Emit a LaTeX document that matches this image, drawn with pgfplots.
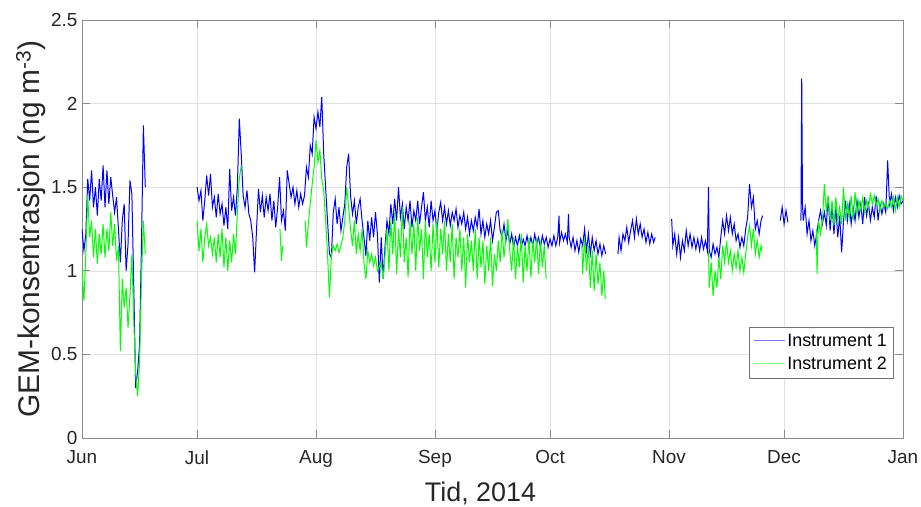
\documentclass[border=0pt]{standalone}
\usepackage{pgfplots}
\pgfplotsset{compat=1.18}
\usepackage{fontspec}
\setmainfont{Liberation Sans}
\definecolor{ticktext}{RGB}{38,38,38}
\definecolor{gridc}{RGB}{225,225,225}
\definecolor{axc}{RGB}{140,140,140}
\definecolor{bluei}{RGB}{0,0,255}
\definecolor{greeni}{RGB}{0,255,0}
\definecolor{bluel}{RGB}{120,120,255}
\definecolor{greenl}{RGB}{120,255,120}
\begin{document}
\begin{tikzpicture}
\begin{axis}[
  scale only axis, width=821bp, height=418bp,
  xmin=0, xmax=214, ymin=0, ymax=2.5,
  xtick={0,30,61,92,122,153,183,214},
  xticklabels={Jun,Jul,Aug,Sep,Oct,Nov,Dec,Jan},
  ytick={0,0.5,1,1.5,2,2.5},
  yticklabels={0,0.5,1,1.5,2,2.5},
  grid=major, major grid style={gridc, line width=0.6pt},
  axis line style={axc, line width=0.8pt},
  tick style={axc, line width=0.8pt}, major tick length=8bp,
  tick align=inside,
  ticklabel style={font=\fontsize{19}{22}\selectfont, text=ticktext},
  xticklabel style={yshift=-9bp},
  yticklabel style={xshift=-1bp},
  /pgf/number format/assume math mode=true,
  xlabel={Tid, 2014},
  ylabel={GEM-konsentrasjon (ng m\textsuperscript{-3})},
  xlabel style={font=\fontsize{27}{31}\selectfont, text=ticktext, at={(axis description cs:0.4854,0)}, anchor=base, yshift=-63bp},
  ylabel style={font=\fontsize{30}{33}\selectfont, text=ticktext, at={(axis description cs:-0.0621,0.5)}, anchor=center},
  unbounded coords=jump,
  legend style={at={(0.988,0.266)}, anchor=north east, draw=black!55, font=\fontsize{18}{21}\selectfont, cells={anchor=west}, inner xsep=4bp, inner ysep=5bp, row sep=5bp},
  legend image code/.code={\draw[#1] (0bp,0bp) -- (31bp,0bp);},
]
\addplot[color=bluei, line width=1pt, forget plot] coordinates {
(0,1.25)(0.5,1.12)(1,1.22)(1.5,1.55)(2,1.42)(2.5,1.6)(3,1.38)(3.5,1.5)(4,1.33)(4.5,1.55)(5,1.42)(5.5,1.63)(6,1.38)(6.5,1.6)(7,1.4)(7.5,1.56)(8,1.45)(8.5,1.35)(9,1.44)(9.5,1.25)(10,1.05)(10.5,1.3)(11,1.4)(11.5,1.0)(12,1.16)(12.5,1.54)(13,1.46)(13.5,0.9)(14,0.3)(14.5,0.4)(15,0.55)(15.5,1.15)(16,1.87)(16.5,1.5)
(17,nan)
(30,1.5)(30.5,1.42)(31,1.48)(31.5,1.3)(32,1.42)(32.5,1.57)(33,1.45)(33.5,1.58)(34,1.38)(34.5,1.44)(35,1.32)(35.5,1.46)(36,1.34)(36.5,1.4)(37,1.27)(37.5,1.38)(38,1.25)(38.5,1.61)(39,1.36)(39.5,1.44)(40,1.33)(40.5,1.5)(41,1.91)(41.5,1.7)(42,1.45)(42.5,1.38)(43,1.48)(43.5,1.34)(44,1.3)(44.5,1.2)(45,0.99)(45.5,1.25)(46,1.49)(46.5,1.35)(47,1.45)(47.5,1.32)(48,1.44)(48.5,1.36)(49,1.46)(49.5,1.3)(50,1.42)(50.5,1.26)(51,1.38)(51.5,1.56)(52,1.3)(52.5,1.36)(53,1.24)(53.5,1.6)(54,1.52)(54.5,1.44)(55,1.5)(55.5,1.4)(56,1.48)(56.5,1.38)(57,1.46)(57.5,1.4)(58,1.45)(58.5,1.62)(59,1.56)(59.5,1.75)(60,1.7)(60.5,1.92)(61,1.85)(61.5,1.95)(62,1.86)(62.5,2.04)(63,1.7)(63.5,1.5)(64,1.3)(64.5,1.1)(65,1.08)(65.5,1.35)(66,1.43)(66.5,1.28)(67,1.38)(67.5,1.24)(68,1.32)(68.5,1.4)(69,1.62)(69.5,1.7)(70,1.45)(70.5,1.34)(71,1.42)(71.5,1.28)(72,1.38)(72.5,1.43)(73,1.3)(73.5,1.2)(74,1.09)(74.5,1.3)(75,1.18)(75.5,1.32)(76,1.2)(76.5,1.35)(77,1.22)(77.5,0.93)(78,1.2)(78.5,0.95)(79,1.15)(79.5,1.3)(80,1.22)(80.5,1.4)(81,1.28)(81.5,1.43)(82,1.3)(82.5,1.5)(83,1.32)(83.5,1.4)(84,1.25)(84.5,1.38)(85,1.3)(85.5,1.42)(86,1.26)(86.5,1.36)(87,1.3)(87.5,1.42)(88,1.28)(88.5,1.38)(89,1.47)(89.5,1.3)(90,1.38)(90.5,1.26)(91,1.42)(91.5,1.3)(92,1.36)(92.5,1.24)(93,1.35)(93.5,1.41)(94,1.3)(94.5,1.38)(95,1.28)(95.5,1.36)(96,1.27)(96.5,1.35)(97,1.3)(97.5,1.37)(98,1.26)(98.5,1.33)(99,1.28)(99.5,1.35)(100,1.25)(100.5,1.32)(101,1.22)(101.5,1.3)(102,1.24)(102.5,1.32)(103,1.26)(103.5,1.37)(104,1.22)(104.5,1.3)(105,1.2)(105.5,1.28)(106,1.22)(106.5,1.3)(107,1.18)(107.5,1.26)(108,1.35)(108.5,1.36)(109,1.24)(109.5,1.2)(110,1.28)(110.5,1.18)(111,1.24)(111.5,1.16)(112,1.22)(112.5,1.14)(113,1.2)(113.5,1.15)(114,1.21)(114.5,1.14)(115,1.19)(115.5,1.15)(116,1.21)(116.5,1.14)(117,1.2)(117.5,1.15)(118,1.22)(118.5,1.16)(119,1.2)(119.5,1.14)(120,1.21)(120.5,1.16)(121,1.2)(121.5,1.14)(122,1.19)(122.5,1.15)(123,1.21)(123.5,1.15)(124,1.2)(124.35,1.33)(124.5,1.17)(125,1.23)(125.5,1.18)(126,1.22)(126.5,1.17)(126.8,1.34)(127,1.2)(127.5,1.14)(128,1.2)(128.5,1.12)(129,1.18)(129.5,1.11)(130,1.19)(130.5,1.15)(131,1.25)(131.5,1.12)(132,1.22)(132.5,1.1)(133,1.2)(133.5,1.12)(134,1.18)(134.5,1.1)(135,1.16)(135.5,1.09)(136,1.15)(136.5,1.1)
(137,nan)
(139.7,1.1)(140,1.2)(140.5,1.12)(141,1.22)(141.5,1.18)(142,1.26)(142.5,1.17)(143,1.24)(143.5,1.3)(144,1.2)(144.5,1.31)(145,1.22)(145.5,1.28)(146,1.2)(146.5,1.25)(147,1.17)(147.5,1.23)(148,1.16)(148.5,1.22)(149,1.17)(149.4,1.2)
(150,nan)
(153.7,1.31)(154,1.15)(154.5,1.22)(155,1.1)(155.5,1.2)(156,1.08)(156.5,1.18)(157,1.12)(157.5,1.24)(158,1.15)(158.5,1.22)(159,1.14)(159.5,1.2)(160,1.13)(160.5,1.19)(161,1.12)(161.5,1.2)(162,1.13)(162.5,1.18)(163,1.12)(163.3,1.5)(163.5,1.12)(164,1.08)(164.5,1.16)(165,1.1)(165.5,1.14)(166,1.08)(166.5,1.2)(167,1.3)(167.5,1.22)(168,1.33)(168.5,1.24)(169,1.32)(169.5,1.22)(170,1.28)(170.5,1.18)(171,1.22)(171.5,1.14)(172,1.2)(172.5,1.15)(173,1.25)(173.5,1.32)(174,1.52)(174.5,1.38)(175,1.44)(175.5,1.25)(176,1.3)(176.5,1.22)(177,1.3)(177.4,1.33)
(178,nan)
(182,1.3)(182.5,1.38)(183,1.28)(183.5,1.36)(184,1.29)
(185,nan)
(187.4,1.3)(187.6,2.15)(187.8,1.4)(188,1.3)(188.5,1.38)(189,1.22)(189.5,1.3)(190,1.18)(190.5,1.24)(191,1.15)(191.5,1.22)(192,1.3)(192.5,1.36)(193,1.28)(193.5,1.35)(194,1.27)(194.5,1.44)(195,1.24)(195.5,1.4)(196,1.22)(196.5,1.38)(197,1.2)(197.5,1.33)(198,1.11)(198.5,1.3)(199,1.42)(199.5,1.3)(200,1.4)(200.5,1.28)(201,1.38)(201.5,1.3)(202,1.42)(202.5,1.32)(203,1.4)(203.5,1.28)(204,1.44)(204.5,1.33)(205,1.4)(205.5,1.3)(206,1.38)(206.5,1.32)(207,1.45)(207.5,1.3)(208,1.4)(208.5,1.34)(209,1.4)(209.5,1.35)(210,1.66)(210.3,1.5)(210.5,1.4)(211,1.46)(211.5,1.36)(212,1.44)(212.5,1.38)(213,1.45)(213.5,1.4)(214,1.42)
};
\addplot[color=greeni, line width=1pt, forget plot] coordinates {
(0,1.0)(0.5,0.82)(1,1.1)(1.5,1.45)(2,1.2)(2.5,1.3)(3,1.08)(3.5,1.25)(4,1.04)(4.5,1.22)(5,1.1)(5.5,1.28)(6,1.08)(6.5,1.25)(7,1.12)(7.5,1.35)(8,1.15)(8.5,1.28)(9,1.06)(9.5,1.15)(10,0.52)(10.5,0.95)(11,0.78)(11.5,0.9)(12,0.66)(12.5,0.85)(13,1.1)(13.5,0.7)(14,0.38)(14.5,0.25)(15,0.45)(15.5,0.95)(16,1.3)(16.5,1.1)
(17,nan)
(30,1.3)(30.5,1.12)(31,1.25)(31.5,1.05)(32,1.2)(32.5,1.28)(33,1.15)(33.5,1.2)(34,1.1)(34.5,1.2)(35,1.05)(35.5,1.22)(36,1.08)(36.5,1.25)(37,1.02)(37.5,1.2)(38,1.0)(38.5,1.18)(39,1.05)(39.5,1.22)(40,1.1)(40.5,1.35)(41,1.55)(41.5,1.63)
(42,nan)
(51.6,1.25)(52,1.06)(52.3,1.15)
(53,nan)
(58.2,1.3)(58.5,1.14)(59,1.28)(59.5,1.4)(60,1.52)(60.5,1.62)(61,1.78)(61.5,1.65)(62,1.72)(62.5,1.55)(63,1.48)(63.5,1.3)(64,1.1)(64.5,0.84)(65,1.09)(65.5,1.15)(66,1.12)(66.5,1.16)(67,1.11)(67.5,1.15)(68,1.2)(68.5,1.3)(69,1.5)(69.5,1.38)(70,1.25)(70.5,1.15)(71,1.3)(71.5,1.1)(72,1.22)(72.5,1.12)(73,1.25)(73.5,1.05)(74,0.95)(74.5,1.12)(75,1.05)(75.5,1.1)(76,1.03)(76.5,1.08)(77,1.0)(78,1.05)(78.5,0.95)(79,1.1)(79.5,1.25)(80,1.0)(80.5,1.3)(81,1.1)(81.5,1.35)(82,0.98)(82.5,1.25)(83,1.08)(83.5,1.38)(84,1.05)(84.5,1.2)(85,0.96)(85.5,1.3)(86,1.1)(86.5,1.28)(87,1.0)(87.5,1.32)(88,1.12)(88.5,1.25)(89,0.95)(89.5,1.3)(90,1.08)(90.5,1.22)(91,1.0)(91.5,1.28)(92,1.05)(92.5,1.3)(93,1.02)(93.5,1.25)(94,1.1)(94.5,1.3)(95,1.0)(95.5,1.22)(96,1.05)(96.5,1.28)(97,0.95)(97.5,1.2)(98,1.08)(98.5,1.25)(99,1.0)(99.5,1.2)(100,0.9)(100.5,1.22)(101,1.05)(101.5,1.18)(102,1.0)(102.5,1.25)(103,0.95)(103.5,1.2)(104,1.02)(104.5,1.18)(105,0.92)(105.5,1.15)(106,1.0)(106.5,1.2)(107,0.91)(107.5,1.1)(108,1.0)(108.5,1.18)(109,1.05)(109.5,1.25)(110,1.08)(110.5,1.2)(111,1.31)(111.5,1.12)(112,1.0)(112.5,1.2)(113,0.95)(113.5,1.15)(114,1.02)(114.5,1.22)(115,0.93)(115.5,1.15)(116,1.0)(116.5,1.2)(117,0.96)(117.5,1.18)(118,1.05)(118.5,1.2)(119,0.98)(119.5,1.18)(120,1.02)(120.5,1.15)(121,0.95)
(122,nan)
(130.3,1.15)(130.5,0.98)(131,1.2)(131.5,1.0)(132,1.15)(132.5,0.9)(133,1.12)(133.5,0.88)(134,1.1)(134.5,0.92)(135,1.05)(135.5,0.85)(136,1.0)(136.4,0.83)
(137,nan)
(163.3,1.12)(163.5,0.9)(164,1.05)(164.5,0.85)(165,1.0)(165.5,0.9)(166,1.08)(166.5,0.95)(167,1.15)(167.5,1.05)(168,1.18)(168.5,1.05)(169,1.12)(169.5,1.0)(170,1.1)(170.5,1.02)(171,1.12)(171.5,1.0)(172,1.08)(172.5,0.99)(173,1.1)(173.5,1.2)(174,1.27)(174.5,1.15)(175,1.25)(175.5,1.1)(176,1.18)(176.5,1.08)(177,1.15)(177.2,1.12)
(178,nan)
(191.4,1.25)(191.6,0.98)(191.8,1.2)(192,1.3)(192.5,1.22)(193,1.3)(193.5,1.52)(194,1.35)(194.5,1.45)(195,1.3)(195.5,1.42)(196,1.27)(196.5,1.44)(197,1.3)(197.5,1.38)(198,1.28)(198.5,1.5)(199,1.3)(199.5,1.4)(200,1.32)(200.5,1.45)(201,1.3)(201.5,1.47)(202,1.34)(202.5,1.42)(203,1.36)(203.5,1.44)(204,1.35)(204.5,1.42)(205,1.38)(205.5,1.46)(206,1.4)(206.5,1.45)(207,1.39)(207.5,1.43)(208,1.36)(208.5,1.42)(209,1.38)(209.5,1.4)(210,1.37)(210.5,1.42)(211,1.38)(211.5,1.44)(212,1.36)(212.5,1.44)(213,1.38)(213.5,1.45)(214,1.42)
};
\addlegendimage{draw=bluel, line width=1pt}
\addlegendentry{Instrument 1}
\addlegendimage{draw=greenl, line width=1pt}
\addlegendentry{Instrument 2}
\coordinate (bl) at (rel axis cs:0,0);
\coordinate (tr) at (rel axis cs:1,1);
\end{axis}
\pgfresetboundingbox
\path ([shift={(-82bp,-69bp)}]bl) rectangle ([shift={(18bp,20bp)}]tr);
\end{tikzpicture}
\end{document}
